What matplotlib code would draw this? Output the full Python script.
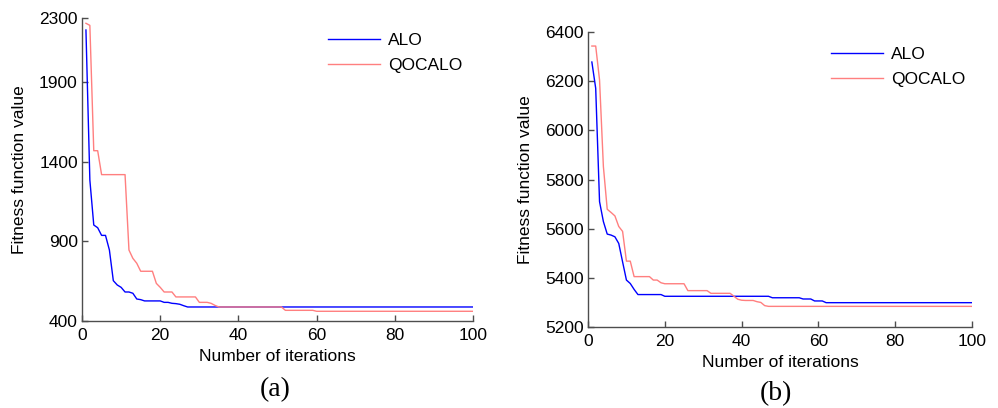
import matplotlib
matplotlib.use("Agg")
import matplotlib.pyplot as plt

# convergence curves (iterations 1..100)
iterations = list(range(1, 101))

alo_a = [2225, 1284, 1002, 985, 937, 937, 845, 653, 626, 611,
         582, 582, 574, 538, 534, 526, 526, 526, 526, 526,
         517, 517, 511, 509, 505, 496, 488] + [488] * 73
qocalo_a = ([2267, 2254, 1468, 1468, 1318] + [1318] * 6
            + [845, 793, 762, 712] + [712] * 3
            + [636, 611, 582, 582, 582] + [551] * 6
            + [517, 517, 517, 511, 498, 488] + [488] * 16
            + [467] * 8 + [461] * 41)

alo_b = ([6278, 6171, 5710, 5629, 5578, 5574, 5567, 5540, 5465, 5391, 5377, 5353]
         + [5332] * 7 + [5325] * 28 + [5319] * 8 + [5314] * 3
         + [5306] * 3 + [5299] * 39)
qocalo_b = ([6343, 6343, 6205, 5853, 5679, 5666, 5652, 5609, 5589, 5468, 5468, 5405]
            + [5405] * 4 + [5391, 5391, 5380] + [5376] * 6
            + [5348] * 6 + [5337] * 6 + [5325, 5313, 5309]
            + [5308] * 3 + [5303, 5300, 5287] + [5284] * 54)

yticks_a = [400, 900, 1400, 1900, 2300]
yticks_b = [5200, 5400, 5600, 5800, 6000, 6200, 6400]
xticks = [0, 20, 40, 60, 80, 100]

plt.rcParams["font.family"] = ["Liberation Sans", "DejaVu Sans"]
BLUE = "#0000ff"
PINK = "#ff7f7f"
SPINE = "0.3"

fig = plt.figure(figsize=(9.98, 4.08), dpi=100)
ax_a = fig.add_axes([0.0822, 0.2132, 0.3918, 0.7426])
ax_b = fig.add_axes([0.5892, 0.1985, 0.3848, 0.7230])


def style(ax, yticks, ylim):
    ax.set_xlim(0, 100)
    ax.set_ylim(*ylim)
    ax.set_xticks(xticks)
    ax.set_yticks(yticks)
    for side in ("top", "right"):
        ax.spines[side].set_visible(False)
    for side in ("left", "bottom"):
        ax.spines[side].set_color(SPINE)
        ax.spines[side].set_linewidth(1.0)
    ax.tick_params(direction="in", length=4, width=1, color=SPINE,
                   labelsize=12.5, pad=3)
    ax.tick_params(axis="x", pad=5)
    ax.set_xlabel("Number of iterations", fontsize=12.5, labelpad=4)
    ax.set_ylabel("Fitness function value", fontsize=12.5, labelpad=9)


def add_legend(ax, x_px, top_px):
    ax.legend(loc="upper left", bbox_to_anchor=(x_px / 998, 1 - top_px / 408),
              bbox_transform=fig.transFigure, frameon=False, fontsize=12.5,
              handlelength=3.0, handletextpad=0.45, labelspacing=0.55,
              borderpad=0, borderaxespad=0)


ax_a.plot(iterations, alo_a, color=BLUE, lw=1.0, label="ALO")
ax_a.plot(iterations, qocalo_a, color=PINK, lw=1.0, label="QOCALO")
style(ax_a, yticks_a, (400, 2300))
add_legend(ax_a, 328, 33)

ax_b.plot(iterations, alo_b, color=BLUE, lw=1.0, label="ALO")
ax_b.plot(iterations, qocalo_b, color=PINK, lw=1.0, label="QOCALO")
style(ax_b, yticks_b, (5200, 6400))
add_legend(ax_b, 831, 47)

fig.text(275 / 998, 1 - 390 / 408, "(a)", ha="center", va="center",
         fontsize=20, family="Liberation Serif")
fig.text(776 / 998, 1 - 394 / 408, "(b)", ha="center", va="center",
         fontsize=20, family="Liberation Serif")

fig.savefig("out.png", dpi=100)
